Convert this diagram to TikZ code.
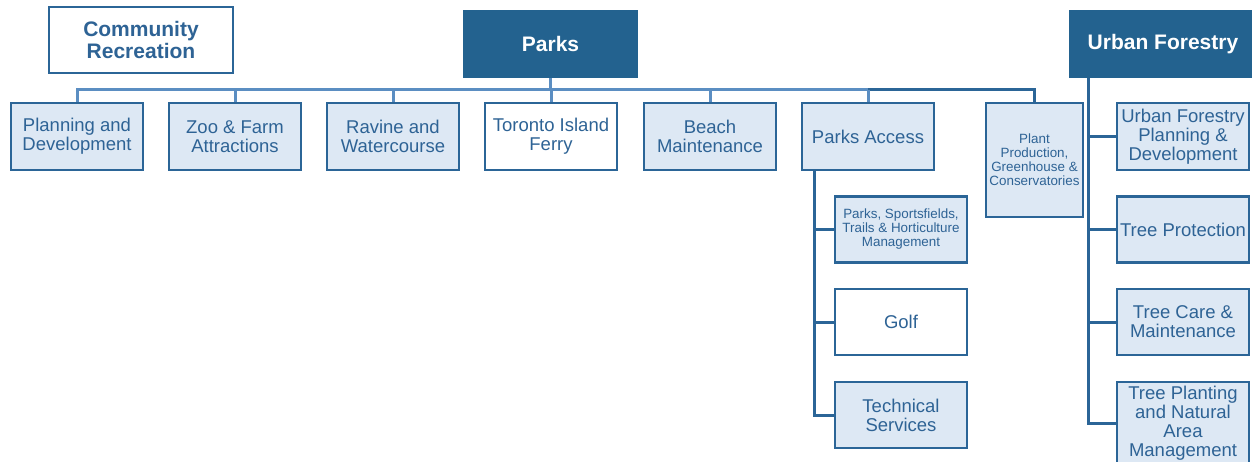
\documentclass[tikz,border=0pt]{standalone}
\usepackage{fontspec}
\setmainfont{Liberation Sans}
\definecolor{hdr}{HTML}{23628F}
\definecolor{bord}{HTML}{2B6597}
\definecolor{lfill}{HTML}{DDE8F4}
\definecolor{txt}{HTML}{2E6395}
\definecolor{busl}{HTML}{5B8EC2}
\tikzset{
  lvbox/.style={draw=bord, line width=2.4pt, fill=lfill, text=txt, align=center, inner sep=0pt,
    minimum width=132pt, minimum height=67pt, font=\fontsize{18.5}{19}\selectfont},
  wbox/.style={lvbox, fill=white},
  hbox/.style={fill=hdr, text=white, align=center, inner sep=0pt, font=\fontsize{21}{22}\selectfont\bfseries},
  smallfont/.style={font=\fontsize{13.4}{14}\selectfont},
  conn/.style={draw=bord, line width=3pt},
  connl/.style={draw=busl, line width=3pt}
}
\begin{document}
\begin{tikzpicture}[x=1pt,y=-1pt]
\useasboundingbox (0,0) rectangle (1252,462);
\clip (0,0) rectangle (1252,462);
% headers
\node[draw=bord, line width=2.4pt, fill=white, text=txt, align=center, inner sep=0pt,
  minimum width=184pt, minimum height=66pt, font=\fontsize{21}{22}\selectfont\bfseries] (cr) at (141,40) {Community\\Recreation};
\node[hbox, minimum width=175pt, minimum height=68pt] (parks) at (550.5,44) {Parks};
\node[hbox, minimum width=188pt, minimum height=68pt] (uf) at (1163,44) {Urban Forestry};
% level 2
\node[lvbox] (p1) at (77,136.5) {Planning and\\Development};
\node[lvbox] (p2) at (235,136.5) {Zoo \& Farm\\Attractions};
\node[lvbox] (p3) at (393,136.5) {Ravine and\\Watercourse};
\node[wbox]  (p4) at (551,136.5) {Toronto Island\\Ferry};
\node[lvbox] (p5) at (710,136.5) {Beach\\Maintenance};
\node[lvbox] (p6) at (868,136.5) {Parks Access};
\node[lvbox, smallfont, minimum width=97pt, minimum height=114pt] (p7) at (1034.5,160) {Plant\\Production,\\Greenhouse \&\\Conservatories};
% parks access children
\node[lvbox, smallfont, minimum height=66pt] (s1) at (901,229.5) {Parks, Sportsfields,\\Trails \& Horticulture\\Management};
\node[wbox, minimum height=66pt] (s2) at (901,322) {Golf};
\node[lvbox, minimum height=66pt] (s3) at (901,415) {Technical\\Services};
% urban forestry children
\node[lvbox] (t1) at (1183,136.5) {Urban Forestry\\Planning \&\\Development};
\node[lvbox, minimum height=66pt] (t2) at (1183,229.5) {Tree Protection};
\node[lvbox, minimum height=66pt] (t3) at (1183,322) {Tree Care \&\\Maintenance};
\node[lvbox, minimum height=82pt] (t4) at (1183,423) {Tree Planting\\and Natural\\Area\\Management};
% bus
\coordinate (bus) at (0,90);
\draw[connl] (p1.north) |- (p6.north |- bus);
\draw[conn] (p6.north |- bus) -| (p7.north);
\draw[connl] (parks.south) -- (parks.south |- bus);
\foreach \n in {p2,p3,p4,p5} \draw[connl] (\n.north) -- (\n.north |- bus);
\draw[connl] (p6.north) -- (p6.north |- bus);
% parks access tree
\coordinate (pa) at ([xshift=14pt]p6.south west);
\draw[conn] (pa) |- (s3.west);
\draw[conn] (pa |- s1.west) -- (s1.west);
\draw[conn] (pa |- s2.west) -- (s2.west);
% urban forestry tree
\coordinate (ufl) at ([xshift=20pt]uf.south west);
\draw[conn] (ufl) |- (t4.west);
\foreach \n in {t1,t2,t3} \draw[conn] (ufl |- \n.west) -- (\n.west);
\end{tikzpicture}
\end{document}
